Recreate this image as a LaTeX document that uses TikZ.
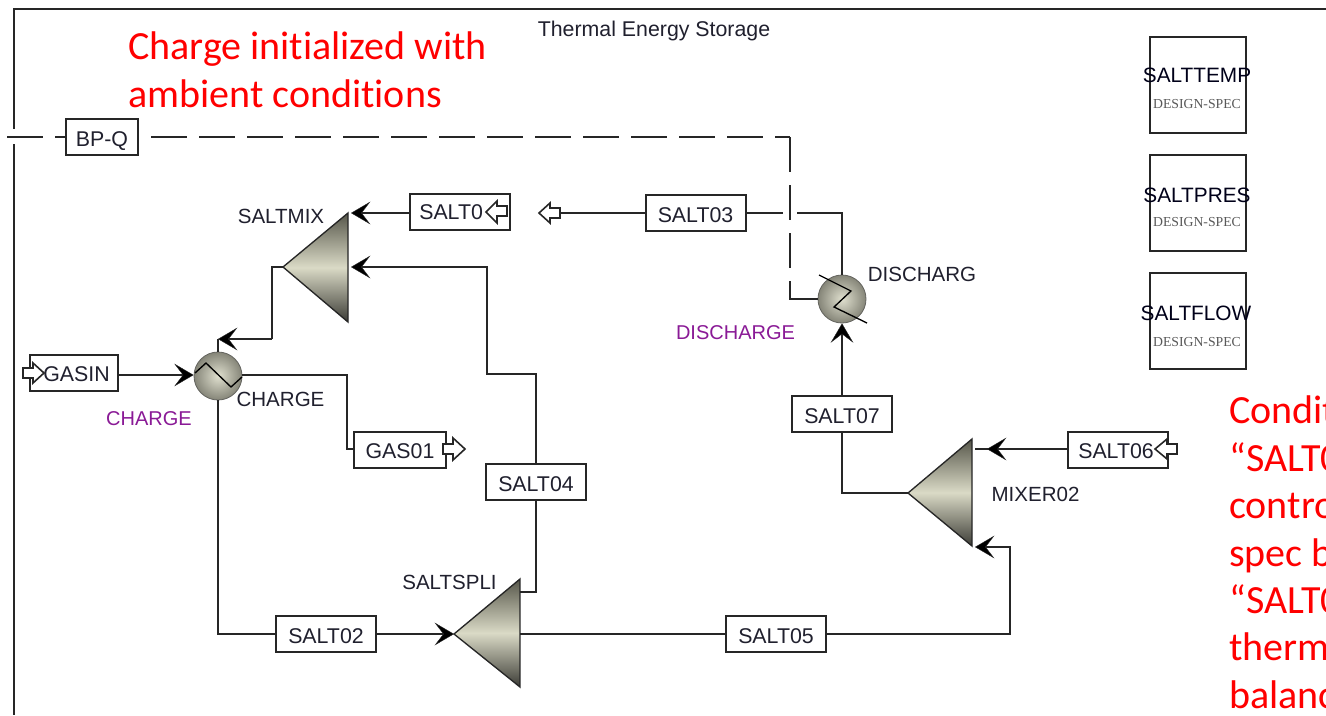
\documentclass[tikz,border=0pt]{standalone}
\usepackage{fontspec}
\setmainfont{Liberation Sans}
\newfontfamily\calib[Ligatures=NoCommon]{Carlito}
\newfontfamily\timesf{Liberation Serif}
\usetikzlibrary{arrows.meta}
\definecolor{ln}{HTML}{262626}
\definecolor{txt}{HTML}{20202E}
\definecolor{purp}{HTML}{8A1A96}
\definecolor{edgetop}{HTML}{56564A}
\definecolor{edgebot}{HTML}{3C3C36}
\definecolor{midg}{HTML}{DADAC6}
\definecolor{sphout}{HTML}{858578}
\tikzset{
  x=0.75pt,y=-0.75pt,
  conn/.style={draw=ln,line width=1.3pt},
  feedtip/.style={-{Stealth[length=14.5pt,width=17pt,inset=6.5pt,line width=0.3pt,fill=black]}},
  blk/.style={draw=ln,line width=1.5pt,fill=white,minimum width=75pt,minimum height=27pt,inner sep=0pt,text=txt,text height=13.6pt,text depth=0pt,font=\fontsize{16}{16}\selectfont},
  lab/.style={inner sep=0pt,text=txt,font=\fontsize{15.4}{16}\selectfont},
  blklab/.style={inner sep=0pt,text=txt,anchor=west,font=\fontsize{16}{16}\selectfont},
  mag/.style={inner sep=0pt,text=purp,font=\fontsize{15}{16}\selectfont},
  redt/.style={inner sep=0pt,anchor=base west,text=red,font=\calib\fontsize{30}{35}\selectfont},
  spec/.style={draw=ln,line width=1.6pt,minimum width=72pt,minimum height=72pt,inner sep=0pt},
  speclab/.style={inner sep=0pt,text=black!90!blue,font=\fontsize{15.6}{16}\selectfont},
  specsub/.style={inner sep=0pt,text=black!65,font=\timesf\fontsize{10.3}{10}\selectfont},
  tri/.style={draw=ln,line width=1pt,top color=edgetop,bottom color=edgebot,middle color=midg},
  hx/.style={circle,minimum size=36pt,inner sep=0pt,draw=edgebot!80,line width=0.6pt,outer color=sphout,inner color=midg!85!white},
  zig/.style={draw=black,line width=1pt},
  dsh/.style={draw=ln,line width=1.3pt},
  port/.style={draw=ln,line width=1.2pt,fill=white},
  frm/.style={draw=ln,line width=1.5pt}
}
\begin{document}
\begin{tikzpicture}
\useasboundingbox (0,0) rectangle (1326,715);
\clip (0,0) rectangle (1326,715);
\fill[white] (0,0) rectangle (1326,715);
% frame
\coordinate (fa) at (1326,9);
\coordinate (fb) at (14,9);
\coordinate (fc) at (14,129);
\coordinate (fd) at (14,144);
\coordinate (fe) at (14,715);
\draw[frm] (fa) -- (fb) -- (fc);
\draw[frm] (fd) -- (fe);
% dashed signal, left part (behind the block)
\coordinate (q1) at (7,137);
\node[blk,minimum width=54pt] (bpq) at (102,137) {BP-Q};
\draw[dsh,dash pattern=on 27pt off 9pt] (q1) -- (bpq.west);
% blocks
\node[blk] (s0) at (460,211.5) {};
\node[blklab] (s0t) at (419,212) {SALT0};
\node[blk] (s03) at (695.5,213) {SALT03};
\node[blk,minimum width=66pt] (gasin) at (74,373) {};
\node[blklab] (gasint) at (43,374.5) {GASIN};
\node[blk,minimum width=69pt] (gas01) at (400,449.5) {GAS01};
\node[blk] (s04) at (536,482) {SALT04};
\node[blk] (s02) at (326,634) {SALT02};
\node[blk] (s05) at (776,634) {SALT05};
\node[blk] (s07) at (842,414) {SALT07};
\node[blk] (s06) at (1118,449.5) {};
\node[blklab] (s06t) at (1078,451) {SALT06};
% unit ops
\coordinate (mixa) at (283,267); \coordinate (mixt) at (348,213); \coordinate (mixb) at (348,322);
\coordinate (mix1) at (351,213); \coordinate (mix2) at (351,267);
\shadedraw[tri] (mixa) -- (mixt) -- (mixb) -- cycle;
\coordinate (spa) at (454,634); \coordinate (spt) at (520,579); \coordinate (spb) at (520,687);
\coordinate (spo) at (520,592); \coordinate (spr) at (520,634);
\shadedraw[tri] (spa) -- (spt) -- (spb) -- cycle;
\coordinate (m2a) at (908,493); \coordinate (m2t) at (972,439); \coordinate (m2b) at (972,546);
\shadedraw[tri] (m2a) -- (m2t) -- (m2b) -- cycle;
\node[hx] (chg) at (218,376) {};
\node[hx] (dis) at (842,299) {};
\coordinate (z1) at (195,373); \coordinate (z2) at (206,363); \coordinate (z3) at (231,387); \coordinate (z4) at (242,377);
\draw[zig] (z1) -- (z2) -- (z3) -- (z4);
\coordinate (d1) at (819,275); \coordinate (d2) at (851,291); \coordinate (d3) at (834,307); \coordinate (d4) at (867,323);
\draw[zig] (d1) -- (d2) -- (d3) -- (d4);
% connectors
\coordinate (gasr) at (gasin.east |- 0,375);
\coordinate (chl) at (chg.west |- 0,375);
\coordinate (chr) at (chg.east |- 0,375);
\coordinate (g01w) at (gas01.west |- 0,449);
\coordinate (s06w) at (s06.west |- 0,449);
\draw[conn,feedtip] (gasr) -- (chl);
\draw[conn] (mixa) -- (272,267) -- (272,339) coordinate (c1);
\draw[conn,feedtip] (c1) -- (218,339) coordinate (c2);
\draw[conn] (c2) -- (chg.north);
\draw[conn] (chr) -- (347,375) -- (347,449) -- (g01w);
\draw[conn] (chg.south) -- (218,634) -- (s02.west);
\draw[conn,feedtip] (s02.east) -- (spa);
\draw[conn] (spr) -- (s05.west);
\draw[conn] (spo) -- (536,592) -- (s04.south);
\draw[conn,feedtip] (s04.north) -- (536,374) -- (487,374) -- (487,267) -- (mix2);
\draw[conn,feedtip] (s0.west |- mix1) -- (mix1);
\draw[conn] (s03.west) -- (560,213);
\draw[conn] (s03.east) -- (783,213);
\draw[conn] (797,213) -- (842,213) -- (dis.north);
\draw[conn,feedtip] (s07.north) -- (dis.south);
\draw[conn] (s07.south) -- (842,493) -- (m2a);
\draw[conn] (s06w) -- (975,449);
\draw[conn,feedtip] (s06w) -- (987,449);
\draw[conn,feedtip] (s05.east) -- (1010,634) -- (1010,547) -- (975,547);
% dashed signal
\coordinate (dq1) at (790,137);
\coordinate (dq2) at (790,299);
\coordinate (dq3) at (790,281);
\draw[dsh,dash pattern=on 27pt off 9pt,dash phase=27pt] (bpq.east) -- (dq1);
\draw[dsh,dash pattern=on 26.6pt off 9.4pt] (dq1) -- (dq3);
\draw[dsh] (dq3) -- (dq2) -- (dis.west);
% open port arrows
\draw[port] (507,206) -- (497,206) -- (497,201) -- (486,212) -- (497,223) -- (497,216) -- (507,216) -- cycle;
\draw[port] (560,208) -- (550,208) -- (550,203) -- (539,213) -- (550,223) -- (550,218) -- (560,218) -- cycle;
\draw[port] (1177,444) -- (1167,444) -- (1167,439) -- (1155,449) -- (1167,459) -- (1167,454) -- (1177,454) -- cycle;
\draw[port] (23,368) -- (33,368) -- (33,363) -- (44,373) -- (33,383) -- (33,378) -- (23,378) -- cycle;
\draw[port] (443,444) -- (453,444) -- (453,438) -- (465,449) -- (453,460) -- (453,454) -- (443,454) -- cycle;
% labels
\node[inner sep=0pt,text=txt,font=\fontsize{16}{16}\selectfont] (title) at (654,31) {Thermal Energy Storage};
\node[lab] (lmix) at (281,216) {SALTMIX};
\node[lab] (lchg) at (280.5,399) {CHARGE};
\node[mag] (mchg) at (149,419) {CHARGE};
\node[lab] (lsp) at (449.5,582) {SALTSPLI};
\node[lab] (ldis) at (922,274) {DISCHARG};
\node[mag] (mdis) at (735.5,333) {DISCHARGE};
\node[lab] (lm2) at (1035.5,494) {MIXER02};
% specs
\node[spec] (st) at (1198,85) {};
\node[spec] (sp) at (1198,203) {};
\node[spec] (sf) at (1198,321) {};
\node[speclab] (stl) at (1197,75) {SALTTEMP};
\node[specsub] (sts) at (1197,104) {DESIGN-SPEC};
\node[speclab] (spl) at (1197,195) {SALTPRES};
\node[specsub] (sps) at (1197,222) {DESIGN-SPEC};
\node[speclab] (sfl) at (1196,313) {SALTFLOW};
\node[specsub] (sfs) at (1197,342) {DESIGN-SPEC};
% red text
\node[redt] (r1) at (128,59.5) {Charge initialized with};
\node[redt] (r2) at (128,107.5) {ambient conditions};
\node[redt] (r3) at (1229,423) {Condit};
\node[redt] (r4) at (1229,471) {“SALT0};
\node[redt] (r5) at (1229,518) {contro};
\node[redt] (r6) at (1229,566) {spec b};
\node[redt] (r7) at (1229,613) {“SALT0};
\node[redt] (r8) at (1229,660) {therm};
\node[redt] (r9) at (1229,708) {balanc};
\end{tikzpicture}
\end{document}
